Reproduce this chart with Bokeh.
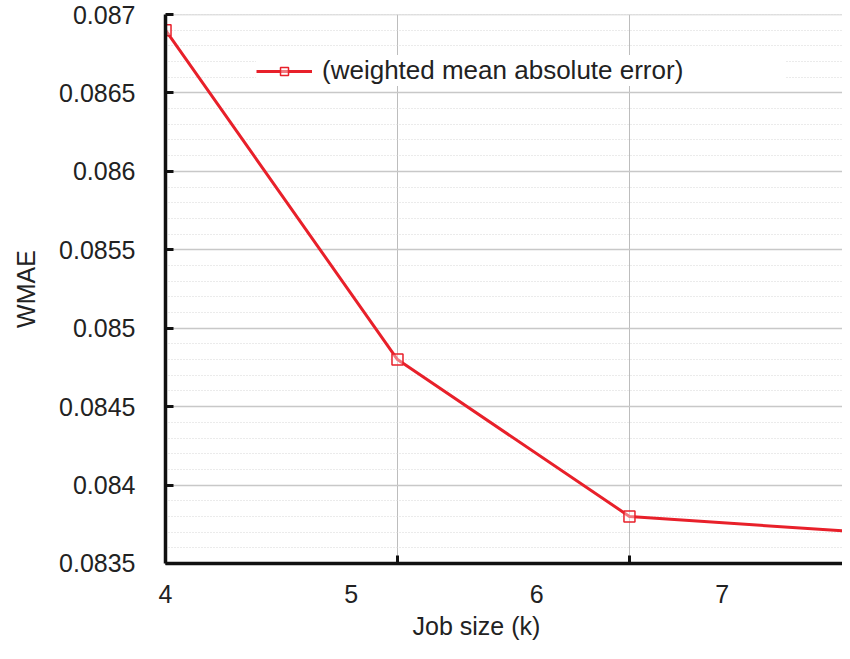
from bokeh.plotting import figure
from bokeh.models import Range1d, FixedTicker, Title, Legend, LegendItem
from bokeh.embed import file_html
from bokeh.resources import INLINE

# ---- data ----
job_size = [4.0, 5.25, 6.5, 7.75]
wmae = [0.0869, 0.0848, 0.0838, 0.0837]
series_label = "(weighted mean absolute error)"
x_axis_title = "Job size (k)"
y_axis_title = "WMAE"
x_tick_values = [4, 5, 6, 7]
x_tick_labels = ["4", "5", "6", "7"]
y_tick_values = [0.0835, 0.084, 0.0845, 0.085, 0.0855, 0.086, 0.0865, 0.087]
y_tick_labels = ["0.0835", "0.084", "0.0845", "0.085", "0.0855", "0.086", "0.0865", "0.087"]
y_minor_values = [round(0.0835 + i * 0.0001, 4) for i in range(36)]

FONT = "Liberation Sans"
TXT = "#222222"
RED = "#e8202a"

p = figure(width=842, height=643,
           x_range=Range1d(3.9999, 7.648),
           y_range=Range1d(0.08349999, 0.08700001),
           output_backend="svg", toolbar_location=None,
           min_border_left=165, min_border_right=0,
           min_border_top=14, min_border_bottom=80)
p.outline_line_color = None
p.background_fill_color = "white"
p.border_fill_color = "white"

r_line = p.line(job_size, wmae, line_color=RED, line_width=3)
r_pts = p.scatter(job_size, wmae, marker="square", size=11, line_color=RED,
                  line_width=1.5, fill_color="white", fill_alpha=0.4)

# ---- x axis ----
xt = FixedTicker(ticks=x_tick_values, minor_ticks=job_size[1:3])
p.xaxis.ticker = xt
p.xgrid.ticker = xt
p.xaxis.major_label_overrides = dict(zip(x_tick_values, x_tick_labels))
p.xaxis.axis_line_color = "#111111"
p.xaxis.axis_line_width = 3.5
p.xaxis.major_tick_line_color = None
p.xaxis.minor_tick_in = 8
p.xaxis.minor_tick_out = 0
p.xaxis.minor_tick_line_width = 3
p.xaxis.minor_tick_line_color = "#111111"
p.xaxis.major_label_standoff = 15
p.xaxis.major_label_text_font = FONT
p.xaxis.major_label_text_font_size = "25px"
p.xaxis.major_label_text_color = TXT
p.xgrid.grid_line_color = None
p.xgrid.minor_grid_line_color = "#bdbdbd"
p.xgrid.minor_grid_line_width = 1

# ---- y axis ----
yt = FixedTicker(ticks=y_tick_values, minor_ticks=y_minor_values)
p.yaxis.ticker = yt
p.ygrid.ticker = yt
p.yaxis.major_label_overrides = dict(zip(y_tick_values, y_tick_labels))
p.yaxis.axis_line_color = "#111111"
p.yaxis.axis_line_width = 3.5
p.yaxis.major_tick_in = 8
p.yaxis.major_tick_out = 0
p.yaxis.major_tick_line_width = 3
p.yaxis.major_tick_line_color = "#111111"
p.yaxis.minor_tick_line_color = None
p.yaxis.major_label_standoff = 26
p.yaxis.major_label_text_font = FONT
p.yaxis.major_label_text_font_size = "25px"
p.yaxis.major_label_text_color = TXT
p.yaxis.axis_label = y_axis_title
p.yaxis.axis_label_standoff = 16
p.yaxis.axis_label_text_font = FONT
p.yaxis.axis_label_text_font_size = "25px"
p.yaxis.axis_label_text_font_style = "normal"
p.yaxis.axis_label_text_color = TXT
p.ygrid.grid_line_color = "#c8c8c8"
p.ygrid.grid_line_width = 1.5
p.ygrid.minor_grid_line_color = "#d6d6d6"
p.ygrid.minor_grid_line_width = 1
p.ygrid.minor_grid_line_dash = "1 2"

# ---- x axis title, placed below the tick labels ----
xlabel = Title(text=x_axis_title, align="left", offset=247,
               text_font=FONT, text_font_size="25px", text_font_style="normal",
               text_color=TXT, standoff=8)
p.add_layout(xlabel, "below")

# ---- legend ----
legend = Legend(items=[LegendItem(label=series_label, renderers=[r_line, r_pts])],
                location=(91, 477), margin=0, padding=8,
                glyph_width=56, glyph_height=20, label_standoff=10, label_width=463,
                label_text_font=FONT, label_text_font_size="26px", label_text_color=TXT,
                border_line_color=None, background_fill_color="white",
                background_fill_alpha=1.0)
p.add_layout(legend)

open("out.html", "w").write(file_html(p, INLINE))
